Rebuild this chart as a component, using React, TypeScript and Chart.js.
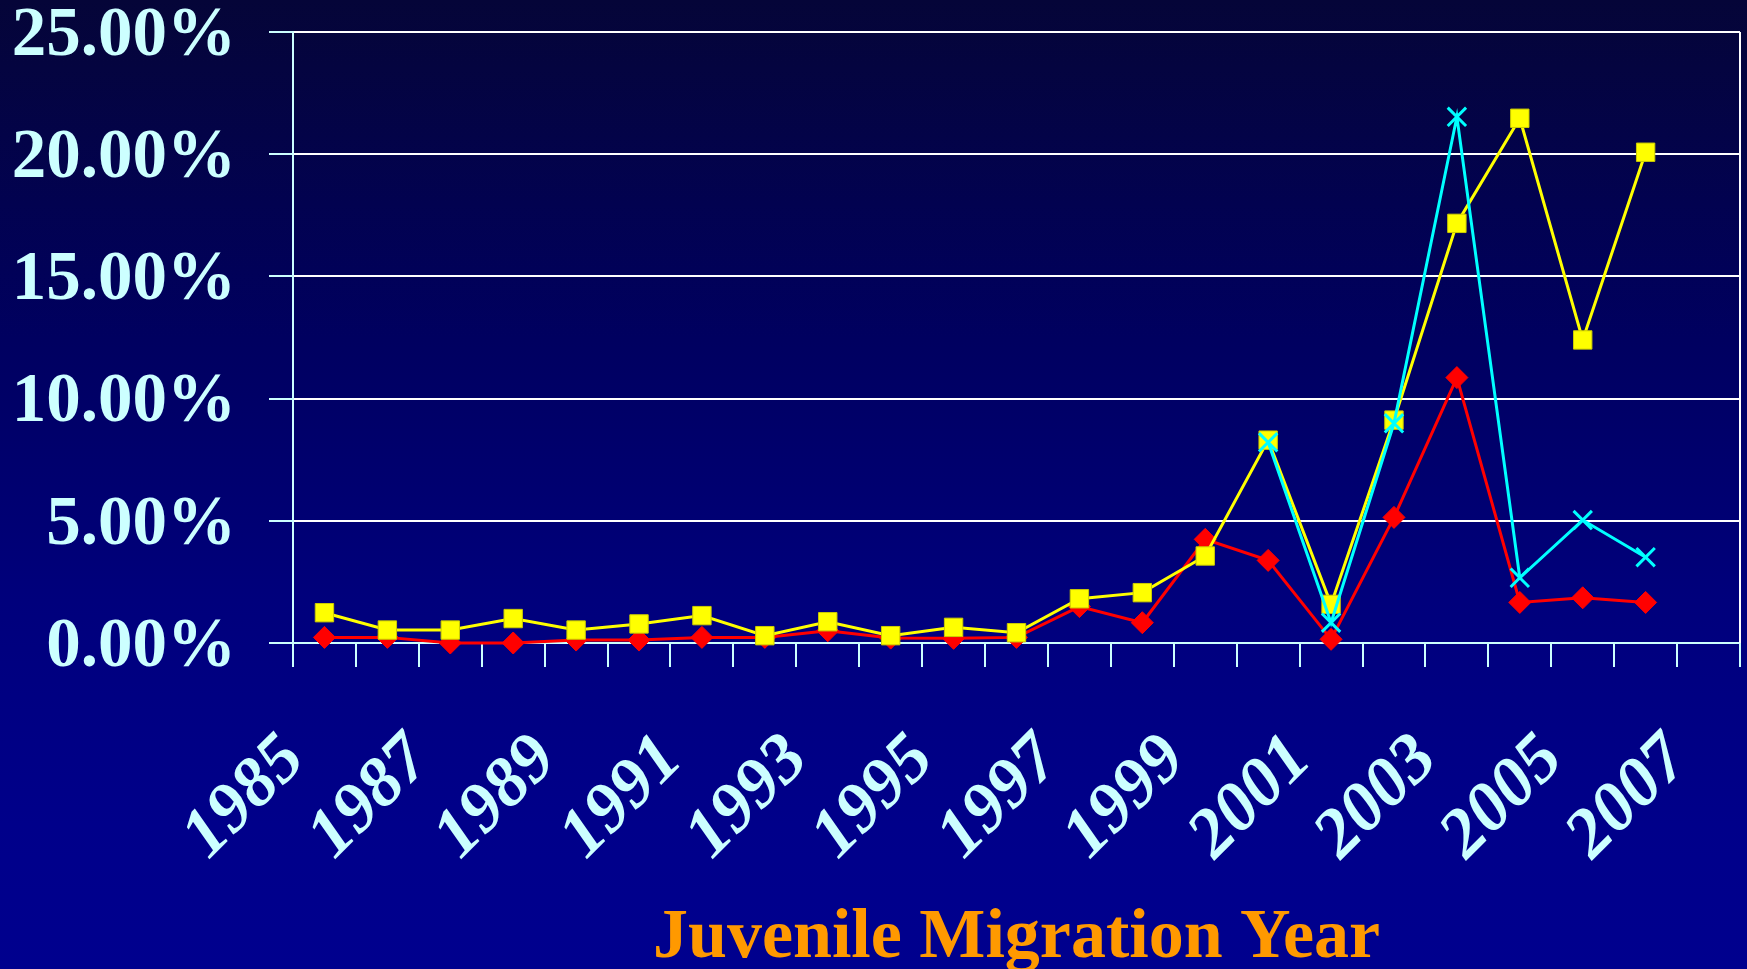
import React, { useEffect, useRef } from 'react';
import { Chart, registerables } from 'chart.js';

Chart.register(...registerables);

const years = [
  '1985', '1986', '1987', '1988', '1989', '1990', '1991', '1992', '1993', '1994', '1995', '1996',
  '1997', '1998', '1999', '2000', '2001', '2002', '2003', '2004', '2005', '2006', '2007',
];

const yellowSeries = [
  1.24, 0.53, 0.53, 1.0, 0.53, 0.78, 1.12, 0.3, 0.87, 0.3, 0.64, 0.42,
  1.81, 2.06, 3.56, 8.3, 1.58, 9.12, 17.17, 21.47, 12.4, 20.08,
];

const redSeries = [
  0.23, 0.23, 0.0, 0.0, 0.12, 0.12, 0.23, 0.23, 0.5, 0.2, 0.19, 0.23,
  1.49, 0.83, 4.24, 3.38, 0.15, 5.14, 10.86, 1.66, 1.85, 1.66,
];

const cyanSeries = [
  null, null, null, null, null, null, null, null, null, null, null, null,
  null, null, null, 8.21, 0.83, 8.99, 21.53, 2.67, 5.03, 3.51,
];

const yMin = 0;
const yMax = 25;
const yStep = 5;

const SERIF = '"Liberation Serif", "Times New Roman", serif';
const AXIS_TEXT = '#CCFFFF';
const TICK_LEN = 24;

const zeroPadding = (s: any) => {
  s.paddingLeft = 0;
  s.paddingRight = 0;
  s.paddingTop = 0;
  s.paddingBottom = 0;
};

// Draws the plot-area's right border (white inside, cyan tick below the axis)
const rightBorderPlugin = {
  id: 'rightBorder',
  beforeDatasetsDraw(chart: any) {
    const { ctx, chartArea } = chart;
    ctx.save();
    ctx.lineWidth = 2;
    ctx.strokeStyle = '#FFFFFF';
    ctx.beginPath();
    ctx.moveTo(chartArea.right, chartArea.top);
    ctx.lineTo(chartArea.right, chartArea.bottom);
    ctx.stroke();
    ctx.strokeStyle = AXIS_TEXT;
    ctx.beginPath();
    ctx.moveTo(chartArea.right, chartArea.bottom);
    ctx.lineTo(chartArea.right, chartArea.bottom + TICK_LEN);
    ctx.stroke();
    ctx.restore();
  },
};

export default function App() {
  const ref = useRef<HTMLCanvasElement>(null);

  useEffect(() => {
    const canvas = ref.current;
    if (!canvas) return;
    const chart = new Chart(canvas, {
      type: 'line',
      plugins: [rightBorderPlugin],
      data: {
        labels: years,
        datasets: [
          {
            label: 'Series C',
            data: cyanSeries,
            borderColor: '#00FFFF',
            backgroundColor: '#00FFFF',
            borderWidth: 3,
            pointStyle: 'crossRot',
            pointRadius: 13,
            pointBorderWidth: 3,
            pointBorderColor: '#00FFFF',
            tension: 0,
            clip: false,
          },
          {
            label: 'Series B',
            data: yellowSeries,
            borderColor: '#FFFF00',
            backgroundColor: '#FFFF00',
            borderWidth: 3,
            pointStyle: 'rect',
            pointRadius: 13,
            pointBorderWidth: 1,
            pointBorderColor: '#CCCC00',
            pointBackgroundColor: '#FFFF00',
            tension: 0,
            clip: false,
          },
          {
            label: 'Series A',
            data: redSeries,
            borderColor: '#FF0000',
            backgroundColor: '#FF0000',
            borderWidth: 3,
            pointStyle: 'rectRot',
            pointRadius: 11,
            pointBorderWidth: 1,
            pointBorderColor: '#FF0000',
            pointBackgroundColor: '#FF0000',
            tension: 0,
            clip: false,
          },
        ],
      },
      options: {
        responsive: false,
        animation: false,
        devicePixelRatio: 1,
        layout: { autoPadding: false, padding: { top: 32, right: 7, left: 0, bottom: 0 } },
        plugins: {
          legend: { display: false },
          tooltip: { enabled: false },
        },
        scales: {
          x: {
            type: 'category',
            offset: true,
            grid: {
              offset: true,
              display: true,
              drawOnChartArea: true,
              drawTicks: true,
              tickLength: TICK_LEN,
              lineWidth: 2,
              tickWidth: 2,
              color: (c: any) => (c.type === 'scale' ? '#FFFFFF' : 'rgba(0,0,0,0)'),
              tickColor: AXIS_TEXT,
            },
            border: { display: true, color: AXIS_TEXT, width: 2 },
            ticks: {
              autoSkip: false,
              maxRotation: 45,
              minRotation: 45,
              padding: 52,
              labelOffset: -30,
              color: AXIS_TEXT,
              font: { family: SERIF, size: 70, weight: 'bold', style: 'italic', lineHeight: 1.2 },
              callback: (_v: any, i: number) => (i % 2 === 0 ? years[i] : ''),
            },
            title: {
              display: true,
              text: 'Juvenile Migration Year',
              color: '#FF9900',
              font: { family: SERIF, size: 70, weight: 'bold', lineHeight: 0.8 },
              padding: { top: 0, bottom: 2 },
            },
            afterFit: (s: any) => {
              s.height = 326;
              zeroPadding(s);
            },
          },
          y: {
            min: yMin,
            max: yMax,
            ticks: {
              stepSize: yStep,
              padding: 33,
              labelOffset: 5,
              color: AXIS_TEXT,
              font: { family: SERIF, size: 69, weight: 'bold', lineHeight: 0.9 },
              callback: (v: any) => Number(v).toFixed(2) + '%',
            },
            grid: {
              color: (c: any) => (c.tick && c.tick.value === 0 ? AXIS_TEXT : '#FFFFFF'),
              tickColor: AXIS_TEXT,
              lineWidth: 2,
              tickWidth: 2,
              tickLength: TICK_LEN,
            },
            border: { color: AXIS_TEXT, width: 2 },
            afterFit: (s: any) => {
              s.width = 293;
              zeroPadding(s);
            },
          },
        },
      },
    } as any);
    return () => chart.destroy();
  }, []);

  return (
    <div
      style={{
        position: 'fixed',
        left: 0,
        top: 0,
        width: 1747,
        height: 969,
        background:
          'linear-gradient(180deg, #050538 0%, #000060 35%, #00007c 62%, #00008a 85%, #00008e 100%)',
      }}
    >
      <canvas ref={ref} width={1747} height={969} style={{ display: 'block', width: 1747, height: 969 }} />
    </div>
  );
}
